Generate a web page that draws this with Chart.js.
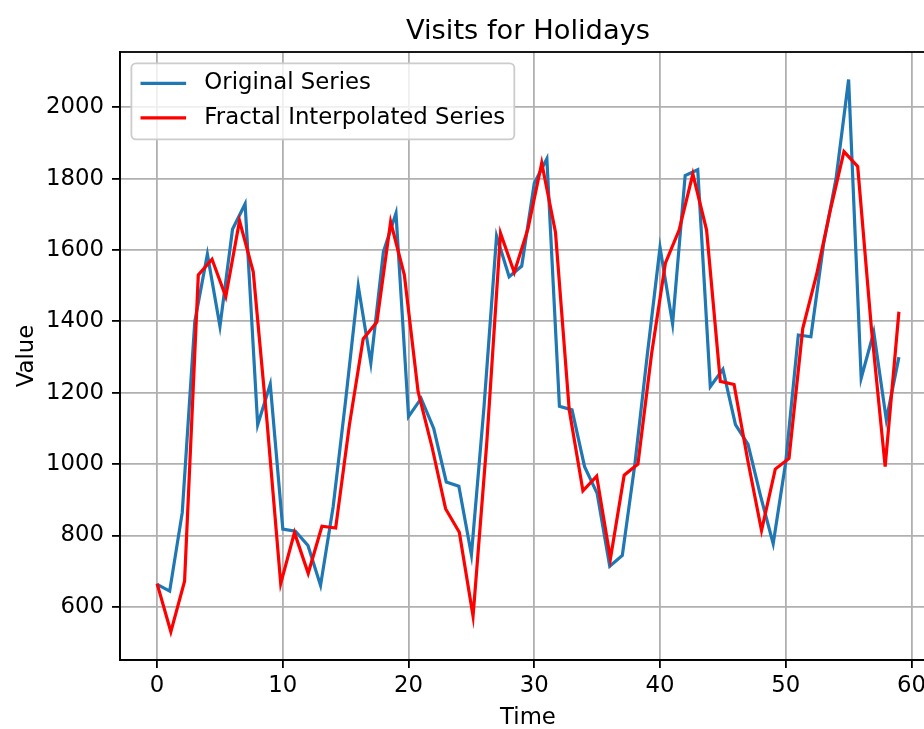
<!DOCTYPE html>
<html>
<head>
<meta charset="utf-8">
<script src="https://cdn.jsdelivr.net/npm/chart.js@4.4.1/dist/chart.umd.min.js"></script>
<style>
  html, body { margin: 0; padding: 0; background: #fff; overflow: hidden; width: 924px; height: 729px; }
  #wrap { width: 980px; height: 729px; }
  canvas { display: block; }
</style>
</head>
<body>
<div id="wrap"><canvas id="chart" width="980" height="729"></canvas></div>
<script>
// Labels
const chartTitle = 'Visits for Holidays';
const xAxisTitle = 'Time';
const yAxisTitle = 'Value';
const originalLabel = 'Original Series';
const fractalLabel = 'Fractal Interpolated Series';

// Original series: one value per time step 0..59
const originalTime = [
  0, 1, 2, 3, 4, 5, 6, 7, 8, 9,
  10, 11, 12, 13, 14, 15, 16, 17, 18, 19,
  20, 21, 22, 23, 24, 25, 26, 27, 28, 29,
  30, 31, 32, 33, 34, 35, 36, 37, 38, 39,
  40, 41, 42, 43, 44, 45, 46, 47, 48, 49,
  50, 51, 52, 53, 54, 55, 56, 57, 58, 59
];
const originalValues = [
  663, 644, 864, 1400, 1588, 1386, 1658, 1729, 1110, 1224,
  818, 812, 772, 660, 880, 1180, 1499, 1283, 1595, 1703,
  1133, 1184, 1100, 950, 938, 746, 1160, 1639, 1525, 1555,
  1787, 1856, 1162, 1152, 993, 918, 714, 744, 1000, 1310,
  1607, 1393, 1809, 1825, 1217, 1266, 1111, 1055, 910, 777,
  1006, 1362, 1357, 1615, 1800, 2078, 1241, 1370, 1124, 1300
];

// Fractal interpolated series: 55 samples spread over the same time span
const fractalTime = [
  0, 1.093, 2.185, 3.278, 4.370, 5.463, 6.556, 7.648, 8.741, 9.833,
  10.926, 12.019, 13.111, 14.204, 15.296, 16.389, 17.481, 18.574, 19.667, 20.759,
  21.852, 22.944, 24.037, 25.130, 26.222, 27.315, 28.407, 29.500, 30.593, 31.685,
  32.778, 33.870, 34.963, 36.056, 37.148, 38.241, 39.333, 40.426, 41.519, 42.611,
  43.704, 44.796, 45.889, 46.981, 48.074, 49.167, 50.259, 51.352, 52.444, 53.537,
  54.630, 55.722, 56.815, 57.907, 59
];
const fractalValues = [
  665, 530, 672, 1530, 1574, 1469, 1682, 1539, 1120, 665,
  808, 694, 826, 821, 1110, 1351, 1398, 1679, 1530, 1203,
  1050, 875, 809, 574, 1060, 1647, 1537, 1660, 1844, 1650,
  1152, 925, 966, 735, 969, 1000, 1310, 1563, 1656, 1813,
  1656, 1232, 1223, 1010, 814, 986, 1016, 1380, 1530, 1710,
  1876, 1834, 1380, 993, 1427
];

// Tick labels
const xTicks = [0, 10, 20, 30, 40, 50, 60];
const yTicks = [600, 800, 1000, 1200, 1400, 1600, 1800, 2000];

const toPoints = (xs, ys) => xs.map((x, i) => ({ x: x, y: ys[i] }));

const FONT = "'DejaVu Sans', 'Liberation Sans', sans-serif";
const TICK_PX = 22.8;
const TITLE_PX = 27.3;
const BLUE = '#1f77b4';
const RED = '#ff0000';

// Axes frame (top edge and right edge complete the box)
const framePlugin = {
  id: 'frame',
  afterDraw(chart) {
    const { ctx, chartArea: a } = chart;
    ctx.save();
    ctx.strokeStyle = '#000';
    ctx.lineWidth = 1.8;
    ctx.strokeRect(a.left, a.top, a.right - a.left, a.bottom - a.top);
    ctx.restore();
  }
};

// Title centred over the plotting area
const titlePlugin = {
  id: 'axesTitle',
  afterDraw(chart) {
    const { ctx, chartArea: a } = chart;
    ctx.save();
    ctx.font = TITLE_PX + 'px ' + FONT;
    ctx.fillStyle = '#000';
    ctx.textAlign = 'center';
    ctx.textBaseline = 'alphabetic';
    ctx.fillText(chartTitle, (a.left + a.right) / 2, 39);
    ctx.restore();
  }
};

// Framed legend in the upper-left corner of the plotting area
const legendPlugin = {
  id: 'boxLegend',
  afterDraw(chart) {
    const { ctx, chartArea: a } = chart;
    const fs = TICK_PX;
    const items = chart.data.datasets.map(d => ({ label: d.label, color: d.borderColor }));
    ctx.save();
    ctx.font = fs + 'px ' + FONT;
    const textW = Math.max(...items.map(it => ctx.measureText(it.label).width));
    const left = a.left + 0.5 * fs;
    const top = a.top + 0.5 * fs;
    const pad = 0.4 * fs;
    const handleLen = 2.0 * fs;
    const gap = 0.8 * fs;
    const rowH = 34.4;
    const w = pad + handleLen + gap + textW + pad;
    const h = 76;
    const r = 0.2 * fs;
    ctx.beginPath();
    ctx.moveTo(left + r, top);
    ctx.lineTo(left + w - r, top);
    ctx.arcTo(left + w, top, left + w, top + r, r);
    ctx.lineTo(left + w, top + h - r);
    ctx.arcTo(left + w, top + h, left + w - r, top + h, r);
    ctx.lineTo(left + r, top + h);
    ctx.arcTo(left, top + h, left, top + h - r, r);
    ctx.lineTo(left, top + r);
    ctx.arcTo(left, top, left + r, top, r);
    ctx.closePath();
    ctx.fillStyle = 'rgba(255,255,255,0.8)';
    ctx.fill();
    ctx.strokeStyle = '#cccccc';
    ctx.lineWidth = 1.8;
    ctx.stroke();
    items.forEach((it, i) => {
      const cy = top + 20 + i * rowH;
      const hx = left + pad;
      ctx.beginPath();
      ctx.moveTo(hx, cy);
      ctx.lineTo(hx + handleLen, cy);
      ctx.strokeStyle = it.color;
      ctx.lineWidth = 3.2;
      ctx.stroke();
      ctx.fillStyle = '#000';
      ctx.textAlign = 'left';
      ctx.textBaseline = 'middle';
      ctx.fillText(it.label, hx + handleLen + gap, cy);
    });
    ctx.restore();
  }
};

const tickFont = { family: FONT, size: TICK_PX };
const plainNumber = v => String(v);

new Chart(document.getElementById('chart'), {
  type: 'line',
  data: {
    datasets: [
      {
        label: originalLabel,
        data: toPoints(originalTime, originalValues),
        borderColor: BLUE,
        backgroundColor: BLUE,
        borderWidth: 3.2,
        pointRadius: 0,
        tension: 0,
        fill: false,
        order: 1
      },
      {
        label: fractalLabel,
        data: toPoints(fractalTime, fractalValues),
        borderColor: RED,
        backgroundColor: RED,
        borderWidth: 3.2,
        pointRadius: 0,
        tension: 0,
        fill: false,
        order: 0
      }
    ]
  },
  options: {
    responsive: false,
    animation: false,
    devicePixelRatio: 1,
    layout: { padding: { left: 0, right: 44, top: 52, bottom: 0 } },
    plugins: {
      legend: { display: false },
      title: { display: false },
      tooltip: { enabled: false }
    },
    scales: {
      x: {
        type: 'linear',
        min: -2.95,
        max: 61.95,
        afterBuildTicks: s => { s.ticks = xTicks.map(v => ({ value: v })); },
        afterFit: s => { s.height = 69; },
        grid: { color: '#b0b0b0', lineWidth: 1.8, tickColor: '#000', tickWidth: 1.8, tickLength: 8 },
        border: { color: '#000', width: 1.8 },
        ticks: { font: tickFont, color: '#000', padding: 4, maxRotation: 0, autoSkip: false, callback: plainNumber },
        title: { display: true, text: xAxisTitle, font: { family: FONT, size: TICK_PX, lineHeight: 1.0 }, color: '#000', padding: { top: 0, bottom: 0 } }
      },
      y: {
        type: 'linear',
        min: 451,
        max: 2155,
        afterBuildTicks: s => { s.ticks = yTicks.map(v => ({ value: v })); },
        afterFit: s => { s.width = 120; },
        grid: { color: '#b0b0b0', lineWidth: 1.8, tickColor: '#000', tickWidth: 1.8, tickLength: 8 },
        border: { color: '#000', width: 1.8 },
        ticks: { font: tickFont, color: '#000', padding: 8, autoSkip: false, callback: plainNumber },
        title: { display: true, text: yAxisTitle, font: { family: FONT, size: TICK_PX, lineHeight: 1.2 }, color: '#000', padding: { top: 13, bottom: 0 } }
      }
    }
  },
  plugins: [framePlugin, titlePlugin, legendPlugin]
});
</script>
</body>
</html>
